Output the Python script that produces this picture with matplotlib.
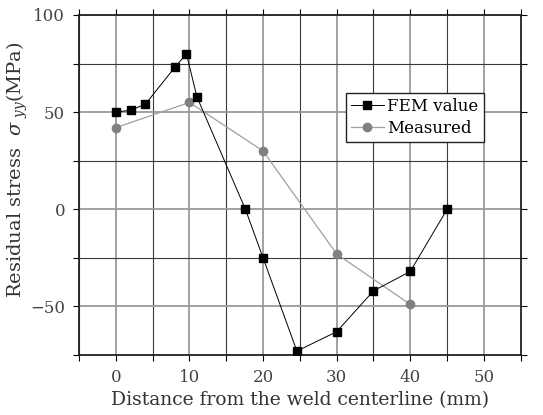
import numpy as np
import matplotlib.pyplot as plt

# FEM result and measured values
fem_x = [0, 2, 4, 8, 9.6, 11, 17.6, 20, 24.6, 30, 35, 40, 45]
fem_y = [50, 51, 54, 73, 80, 58, 0, -25, -73, -63, -42, -32, 0]
meas_x = [0, 10, 20, 30, 40]
meas_y = [42, 55, 30, -23, -49]

plt.rcParams['font.family'] = ['DejaVu Serif']
plt.rcParams['mathtext.fontset'] = 'dejavuserif'

fig = plt.figure(figsize=(5.43, 4.15), dpi=100)
ax = fig.add_axes([0.1455, 0.1446, 0.8135, 0.8193])

# grid: major lines grey, minor lines dark
for v in np.arange(-5, 56, 5):
    major = v % 10 == 0
    ax.axvline(v, color='#9a9a9a' if major else '#3a3a3a', lw=1.3 if major else 0.8, zorder=0)
for v in np.arange(-75, 101, 25):
    major = v % 50 == 0
    ax.axhline(v, color='#9a9a9a' if major else '#3a3a3a', lw=1.3 if major else 0.8, zorder=0)

ax.plot(fem_x, fem_y, color='black', lw=0.7, marker='s', ms=5.5, label='FEM value', zorder=3)
ax.plot(meas_x, meas_y, color='#a0a0a0', lw=0.9, marker='o', markerfacecolor='#808080',
        markeredgecolor='#808080', ms=6, label='Measured', zorder=2)

ax.set_xlim(-5, 55)
ax.set_ylim(-75, 100)
ax.set_xticks([0, 10, 20, 30, 40, 50])
ax.set_xticks(np.arange(-5, 56, 5), minor=True)
ax.set_yticks([-50, 0, 50, 100])
ax.set_yticks(np.arange(-75, 101, 25), minor=True)
ax.tick_params(which='both', direction='out', top=True, right=True, length=4, width=0.8,
               labelsize=12, labelcolor='#444444', pad=6)

for s in ax.spines.values():
    s.set_linewidth(1.3)
    s.set_color('#222222')

ax.set_xlabel('Distance from the weld centerline (mm)', fontsize=13.5, color='#333333')
ax.xaxis.set_label_coords(0.5, -0.105)
ax.set_ylabel(r'Residual stress  $\sigma_{\ yy}$(MPa)', fontsize=14, color='#333333')
ax.yaxis.set_label_coords(-0.11, 0.545)

leg = ax.legend(loc='upper left', bbox_to_anchor=(0.585, 0.795), fontsize=12, frameon=True,
                fancybox=False, edgecolor='#222222', framealpha=1, handlelength=2.0,
                handletextpad=0.2, borderpad=0.3, labelspacing=0.3)
leg.get_frame().set_linewidth(1.0)

plt.savefig('out.png', dpi=100)
